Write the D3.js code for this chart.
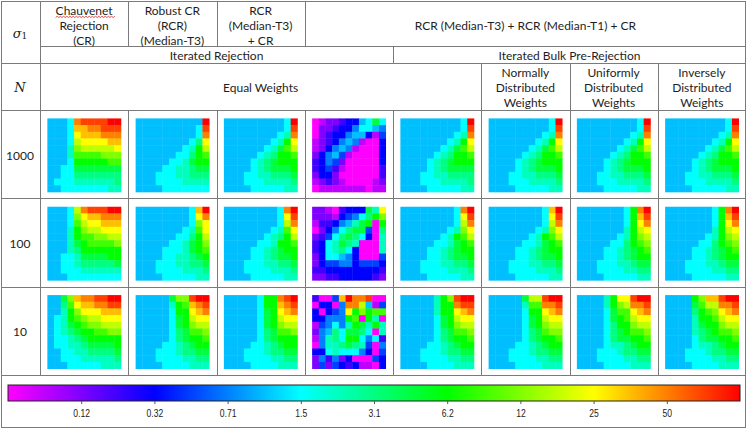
<!DOCTYPE html>
<html>
<head>
<meta charset="utf-8">
<script src="https://cdn.jsdelivr.net/npm/d3@7"></script>
<style>
  body { margin: 0; background: #fff; }
  svg { display: block; }
  .hd { font-family: Lato, "Open Sans", sans-serif; font-size: 12px; fill: #1e1e1e; }
  .cb { font-family: "Liberation Sans Narrow", "Liberation Sans", sans-serif; font-size: 11px; fill: #222; }
</style>
</head>
<body>
<div id="chart"></div>
<script>
// ---- data ----
const methodHeads = [["Chauvenet", "Rejection", "(CR)"], ["Robust CR", "(RCR)", "(Median-T3)"], ["RCR", "(Median-T3)", "+ CR"]];
const comboHead = "RCR (Median-T3) + RCR (Median-T1) + CR";
const groupHeads = ["Iterated Rejection", "Iterated Bulk Pre-Rejection"];
const weightHeads = [["Equal Weights"], ["Normally", "Distributed", "Weights"], ["Uniformly", "Distributed", "Weights"], ["Inversely", "Distributed", "Weights"]];
const nLabels = ["1000", "100", "10"];
const cbTicks = ["0.12", "0.32", "0.71", "1.5", "3.1", "6.2", "12", "25", "50"];
const cbColors = ["#ff00ff", "#0000ff", "#00ffff", "#00ff00", "#ffff00", "#ff0000"];

// each character = position on the colour bar in half steps (0 = magenta ... K = red)
const levelCodes = "0123456789ABCDEFGHIJK";

const grids1000 = [
  ["7778IJJJJKK","7778HHIIJJJ","7778GHHHIII","7778FGGGGHH","7779EFFFFFG","7779DDDDEEE","7778CCCCCDD","7788BBBBBBB","7788AAAAAAA","7888999999A","77888888899"],
  ["7777777777K","7777777778J","7777777778I","777777778AG","777777789CF","77777788ACD","77777889BCC","77778899ABB","77788899AAA","77788889999","77778888888"],
  ["7777777778K","7777777778J","7777777789I","777777789CG","77777789BDF","7777789ACCD","777789ABCCC","777789ABBBC","7778899AAAB","7778889999A","77778888899"],
  ["012234478B8","02234468876","02344677415","12346761004","12467610004","24675100004","34652000004","34531000003","24420000003","12321000012","01111111011"],
  ["7777777778K","7777777778J","7777777789I","777777789CG","77777789BDF","7777789ACCD","777789ABCCC","777789ABBBB","7778899AAAA","7778889999A","77778888899"],
  ["7777777778K","7777777778J","7777777789I","777777789CG","77777789BDF","7777789ACCD","777789ABCCC","777789ABBBC","7778899AAAB","7778889999A","77778888899"],
  ["7777777778K","7777777778J","7777777789I","777777789CG","77777789BDF","7777789ACCD","777789ABCCC","777789ABBBC","7778899AAAB","7778889999A","77778888899"],
  ["7777777778K","7777777778J","7777777789I","777777789CG","77777789BDF","7777789ACCD","777789ABCCC","777789ABBBC","7778899AAAB","7778889999A","77778888899"]
];
const grids100 = [
  ["7778FIJJJKK","7778EGHHIII","7778DFGGHHH","7779CEFFGGG","7779CDDEEFF","7779BCDDDDE","7779ACCCCCC","77889BBBBCC","77889AAAAAB","77888999999","77788888888"],
  ["777777778HK","777777778GI","777777778EG","777777789DG","77777788ACF","77777889BCE","77778889BCD","77778899ABC","77788899AAB","7778888999A","77778888899"],
  ["777777778IK","777777778GJ","777777778FI","777777789DG","77777789ACF","77777889CCD","7777889ABCC","7777889ABBC","77788899AAB","7778888999A","77778888899"],
  ["22103444B9G","22214568ACE","1334679BC0C","02468ABB50A","2358ABA8409","3489BA90009","3489A840009","24887640005","24556645554","33444444443","22334444432"],
  ["777777778IK","777777778GJ","777777778FI","777777789EG","77777789CDF","77777889BCD","7777889ABCC","7777889ABBC","77788899AAB","7778888999A","77778888899"],
  ["777777778HK","777777778GJ","777777778FI","777777789EG","77777789CDF","77777889BCD","7777889ABCC","7777889ABBC","77788899AAB","7778888999A","77778888899"],
  ["77777778CIK","77777778CHJ","77777778CGI","77777779CFG","77777789CEF","7777788ACDE","7777889ABCD","7777889ABCC","77788899ABB","777888899AA","77778888899"],
  ["77777778CIK","77777778CHJ","77777778CGI","77777779CFG","77777789CEF","7777788ACDE","7777889ABCD","7777889ABCC","77788899ABB","777888899AA","77778888899"]
];
const grids10 = [
  ["77BEHIIJJKK","77ADGHHIIJJ","779CEGGGHHH","789CDEFFGGG","789BCDEEFFF","789ABCCDDEE","7889ABCCCCC","78899ABBBBC","778899AAAAB","7788899999A","77788888999"],
  ["77777BEEJKK","777779CDHIJ","777778CCGHI","777778BCFGG","777778BCEFF","777778ABDDE","777778ABCCD","7777889ABCC","7778889AABB","777888899AA","77778888999"],
  ["777778CCIJK","777778CCHIJ","777778BCGHI","777778BCFGG","777778BCEFF","777778ABDDE","777778ABCCC","7777889ABCC","7778889AABB","777888899AA","77778888999"],
  ["3005HKIIJ00","04406IIF715","40456GCECDD","44666CD0C90","156869CB9C9","267A8BBA809","169A8CC8683","0699ABA9506","44898886405","26362400054","25254341104"],
  ["777779CEJKK","777779CCIJJ","777779CCGHI","777778BCFGG","777778BCEFF","777778ABDDE","777778ABCCD","7777889ABCC","7778889AABB","777888899AA","77778888999"],
  ["77777BFFJKK","777779DDIIJ","777778CCGHI","777778BCFGG","777778BCEFF","777778ABDEE","777778ABCCD","7777889ABCC","7778889AABB","777888899AA","77778888999"],
  ["77779CGGJKK","77779CEFIIJ","77778BDDGHI","77778BCDFGG","77778ACCEFF","77778ABCDDE","77778ABBCCD","7777899ABCC","7778889AABB","777888899AA","77778888999"],
  ["7777CEHHJKK","7777BDFFIIJ","7777ACDEGHI","77779CCDFGG","77779BCCEFF","77779ABCDDE","77778ABBCCD","7777899ABCC","7778889AABB","777888899AA","77778888999"]
];
const allGrids = [grids1000, grids100, grids10];

// ---- layout ----
const W = 747, H = 430;
const lineCol = "#7a7a7a";

const svg = d3.select("#chart").append("svg")
  .attr("width", W).attr("height", H);

const colX = d3.scaleBand().domain(d3.range(8)).range([40, 746]);
const rowY = d3.scaleBand().domain(nLabels).range([110, 375]);
const hmSize = 73.5;
const cellPos = d3.scaleBand().domain(d3.range(11)).range([0, hmSize]);
const color = d3.scaleLinear().domain([0, 2, 4, 6, 8, 10]).range(cbColors).interpolate(d3.interpolateRgb);

// ---- heatmaps ----
allGrids.forEach((rowGrids, ri) => {
  rowGrids.forEach((grid, ci) => {
    const gx = colX(ci) + (colX.bandwidth() - hmSize) / 2;
    const gy = rowY(nLabels[ri]) + (rowY.bandwidth() - hmSize) / 2 + 1;
    const cells = [];
    grid.forEach((s, r) => s.split("").forEach((ch, c) => cells.push({ r, c, v: levelCodes.indexOf(ch) / 2 })));
    svg.append("g").attr("transform", `translate(${gx},${gy})`)
      .selectAll("rect").data(cells).enter().append("rect")
      .attr("x", d => cellPos(d.c))
      .attr("y", d => cellPos(d.r))
      .attr("width", cellPos.bandwidth() + 0.4)
      .attr("height", cellPos.bandwidth() + 0.4)
      .attr("fill", d => color(d.v));
  });
});

// ---- table lines ----
const grid = svg.append("g").attr("stroke", lineCol).attr("stroke-width", 1).attr("shape-rendering", "crispEdges");
const ln = (x1, y1, x2, y2) => grid.append("line").attr("x1", x1).attr("y1", y1).attr("x2", x2).attr("y2", y2);
const px = v => Math.round(v) + 0.5;

grid.append("rect").attr("x", 1.5).attr("y", 1.5).attr("width", 744).attr("height", 426).attr("fill", "none");
ln(px(40), 1.5, px(40), px(375));
ln(px(40), px(46), 746, px(46));
[63, 110].forEach(y => ln(1.5, px(y), 746, px(y)));
nLabels.slice(1).forEach(n => ln(1.5, px(rowY(n)), 746, px(rowY(n))));
ln(1.5, px(375), 746, px(375));
[1, 2, 3].forEach(i => ln(px(colX(i)), 1.5, px(colX(i)), px(46)));
ln(px(colX(4)), px(46), px(colX(4)), px(63));
[5, 6, 7].forEach(i => ln(px(colX(i)), px(63), px(colX(i)), px(375)));
[1, 2, 3, 4].forEach(i => ln(px(colX(i)), px(110), px(colX(i)), px(375)));

// ---- header text ----
const txt = (x, y, s, cls) => svg.append("text").attr("class", cls || "hd")
  .attr("x", x).attr("y", y).attr("text-anchor", "middle").attr("dominant-baseline", "central").text(s);

const sig = svg.append("text").attr("x", 20).attr("y", 33).attr("text-anchor", "middle")
  .attr("dominant-baseline", "central").attr("font-family", "DejaVu Serif, serif").attr("font-size", 13).attr("fill", "#222");
sig.append("tspan").attr("font-style", "italic").text("σ");
sig.append("tspan").attr("font-size", 9).attr("dy", 3).text("1");
svg.append("text").attr("x", 20).attr("y", 87).attr("text-anchor", "middle").attr("dominant-baseline", "central")
  .attr("font-family", "DejaVu Serif, serif").attr("font-style", "italic").attr("font-size", 13).attr("fill", "#222").text("N");

methodHeads.forEach((lines, i) => {
  const cx = colX(i) + colX.bandwidth() / 2;
  lines.forEach((s, k) => {
    const t = txt(cx, 10 + k * 15, s);
    if (i === 0 && k === 0) {
      // spell-check squiggle under "Chauvenet"
      const b = t.node().getBBox();
      let d = `M${b.x},${b.y + b.height}`;
      for (let x = b.x, up = true; x < b.x + b.width; x += 1.6, up = !up) d += ` L${x + 1.6},${b.y + b.height + (up ? -1.2 : 0)}`;
      svg.append("path").attr("d", d).attr("fill", "none").attr("stroke", "#e02020").attr("stroke-width", 0.8);
    }
  });
});
txt((colX(3) + 746) / 2, 25, comboHead);
txt((40 + colX(4)) / 2, 55, groupHeads[0]);
txt((colX(4) + 746) / 2, 55, groupHeads[1]);
txt((40 + colX(5)) / 2, 87, weightHeads[0][0]);
weightHeads.slice(1).forEach((lines, i) => {
  const cx = colX(5 + i) + colX.bandwidth() / 2;
  lines.forEach((s, k) => txt(cx, 72 + k * 15, s));
});
nLabels.forEach(n => txt(20, rowY(n) + rowY.bandwidth() / 2 + 1, n));

// ---- colour bar ----
const cbX = d3.scaleLinear().domain([0, 10]).range([8, 740]);
const grad = svg.append("defs").append("linearGradient").attr("id", "cbGrad");
cbColors.forEach((c, i) => grad.append("stop").attr("offset", (i / (cbColors.length - 1) * 100) + "%").attr("stop-color", c));
svg.append("rect").attr("x", cbX(0)).attr("y", 385).attr("width", cbX(10) - cbX(0)).attr("height", 16)
  .attr("fill", "url(#cbGrad)").attr("stroke", "#222").attr("stroke-width", 1);

const cbAxis = d3.axisBottom(cbX).tickValues(d3.range(1, 10)).tickFormat((d, i) => cbTicks[i]).tickSize(3).tickPadding(5);
const ax = svg.append("g").attr("transform", "translate(0,401)").call(cbAxis);
ax.select(".domain").remove();
ax.selectAll(".tick line").attr("stroke", "#555");
// narrow labels, as in the reference
ax.selectAll(".tick text").attr("class", "cb").attr("fill", "#222").attr("transform", "scale(0.78,1)");
</script>
</body>
</html>
